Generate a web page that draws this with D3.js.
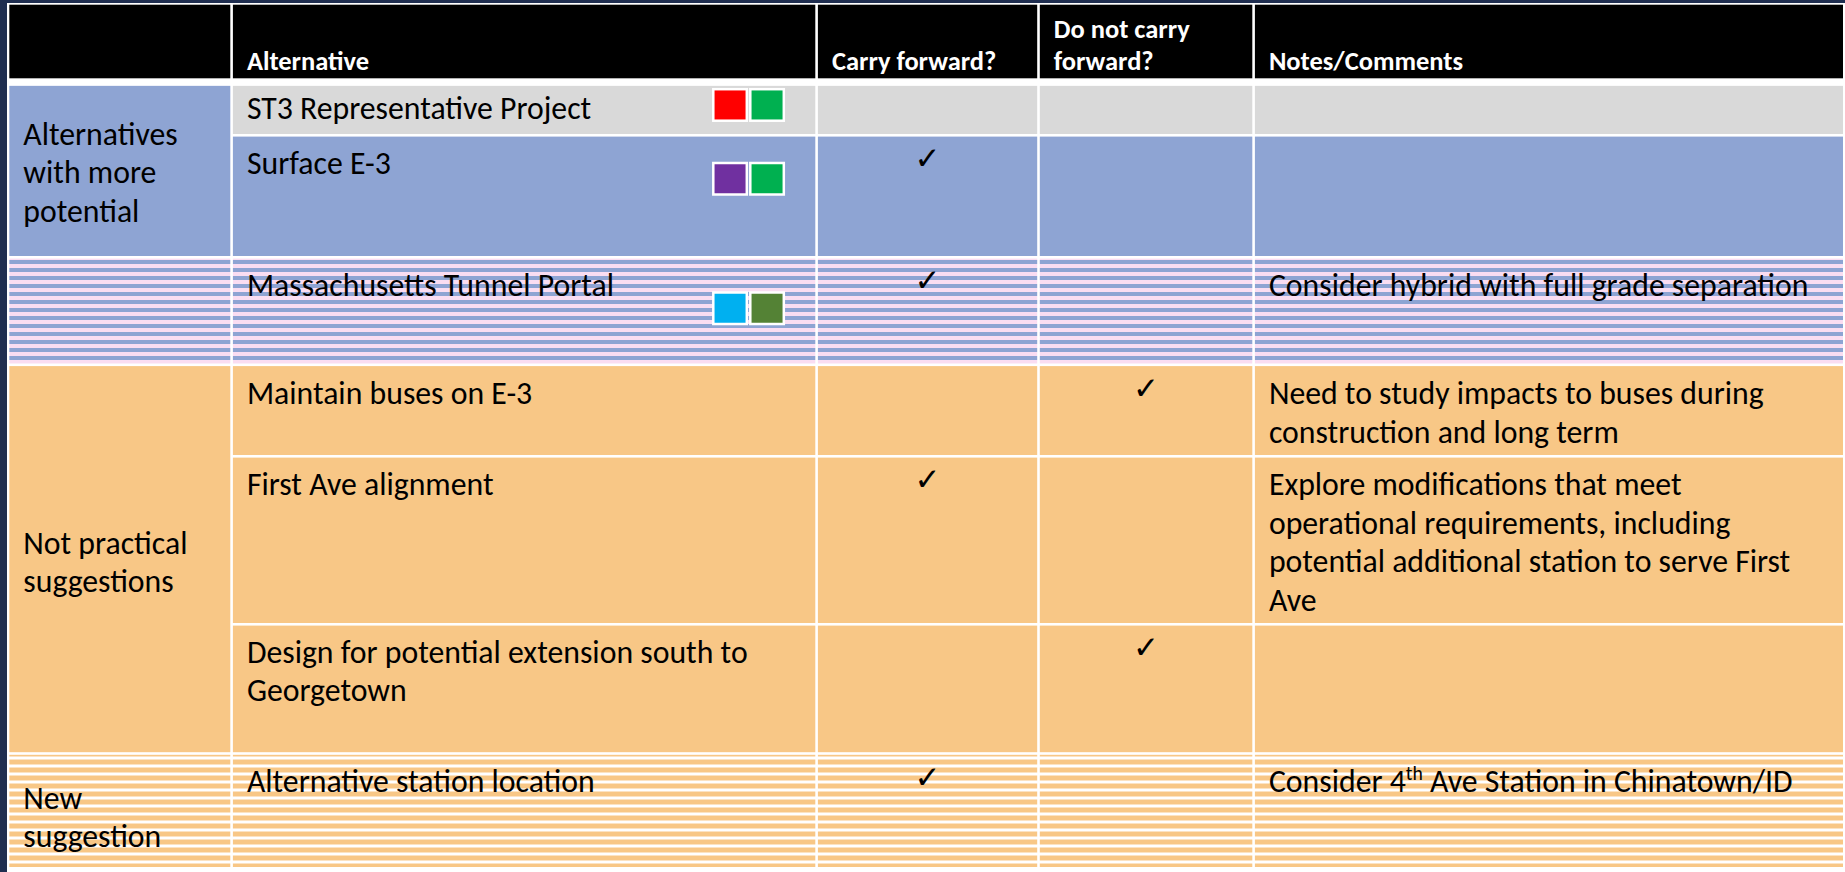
<!DOCTYPE html>
<html>
<head>
<meta charset="utf-8">
<script src="https://cdn.jsdelivr.net/npm/d3@7"></script>
<style>
  html, body { margin: 0; padding: 0; background: #1F2E50; }
  svg { display: block; }
</style>
</head>
<body>
<svg id="chart" width="1845" height="872"></svg>
<script>
// ---------------- DATA ----------------
const headers = ["", "Alternative", "Carry forward?", "Do not carry\nforward?", "Notes/Comments"];
const alternatives = [
  "ST3 Representative Project",
  "Surface E-3",
  "Massachusetts Tunnel Portal",
  "Maintain buses on E-3",
  "First Ave alignment",
  "Design for potential extension south to\nGeorgetown",
  "Alternative station location"
];
// "carry" -> check in "Carry forward?", "drop" -> check in "Do not carry forward?"
const decisions = [null, "carry", "carry", "drop", "carry", "drop", "carry"];
const notes = [
  "",
  "",
  "Consider hybrid with full grade separation",
  "Need to study impacts to buses during\nconstruction and long term",
  "Explore modifications that meet\noperational requirements, including\npotential additional station to serve First\nAve",
  "",
  "Consider 4{th} Ave Station in Chinatown/ID"
];
const groupLabels = ["Alternatives\nwith more\npotential", "", "Not practical\nsuggestions", "New\nsuggestion"];
const groupSpans = [2, 1, 3, 1];          // number of alternative rows per group cell
const rowFills = ["grey", "blue", "stripeBlue", "orange", "orange", "orange", "stripeOrange"];
const groupFills = ["blue", "stripeBlue", "orange", "stripeOrange"];
const swatchColors = [["#FF0000", "#00B050"], ["#7030A0", "#00B050"], ["#00B0F0", "#548235"], [], [], [], []];

// ---------------- LAYOUT ----------------
const W = 1845, H = 872;
const colEdges = [8, 231.6, 816.6, 1038.5, 1253.6, 1844];
const headerTop = 4.7, headerBottom = 78.3;
const rowEdges = [82, 135.3, 257.3, 364.8, 456.3, 624.3, 753.5, 868];
const rowTextDy = [36.5, 39, 38.5, 39.5, 39, 38.5, 38];
const groupTextDy = [3, 0, 3, 6.5];
const swatchDy = [6, 26.5, 34];
const lineW = 2.6, headGap = 7.7;
const bodyLine = 38.5, headLine = 32.7;
const padX = 14;
const colors = {
  grey: "#D9D9D9", blue: "#8EA4D3", orange: "#F8C786",
  pink: "#FADDF2", white: "#FFFFFF", bg: "#1F2E50"
};
const FONT = "Carlito, Calibri, Lato, 'Open Sans', sans-serif";

const svg = d3.select("#chart");

// font size calibration so string widths match the reference
function fit(samples, weight) {
  const ratios = samples.map(([s, w]) => {
    const t = svg.append("text").attr("font-family", FONT).attr("font-weight", weight)
      .attr("font-size", 30).text(s);
    const len = t.node().getComputedTextLength();
    t.remove();
    return 30 * w / len;
  });
  return d3.mean(ratios);
}
const bodySize = fit([["ST3 Representative Project", 345], ["Alternatives", 155], ["Surface E-3", 143],
  ["Consider hybrid with full grade separation", 541]], 400);
const headSize = fit([["Alternative", 122], ["Notes/Comments", 194], ["Carry forward?", 165]], 700);

// scales
const nRows = alternatives.length;
const yTop = d3.scaleOrdinal().domain(d3.range(nRows)).range(rowEdges.slice(0, nRows));
const yBot = d3.scaleOrdinal().domain(d3.range(nRows)).range(rowEdges.slice(1));
const xL = d3.scaleOrdinal().domain(d3.range(5)).range(colEdges.slice(0, 5));
const xR = d3.scaleOrdinal().domain(d3.range(5)).range(colEdges.slice(1));

// patterns
const defs = svg.append("defs");
function stripe(id, bg, fg, start, fgH) {
  const p = defs.append("pattern").attr("id", id).attr("patternUnits", "userSpaceOnUse")
    .attr("x", 0).attr("y", start % 8).attr("width", 8).attr("height", 8);
  p.append("rect").attr("width", 8).attr("height", 8).attr("fill", bg);
  p.append("rect").attr("width", 8).attr("height", fgH).attr("fill", fg);
}
stripe("stripeBlue", colors.pink, colors.blue, 260, 4);
stripe("stripeOrange", colors.white, colors.orange, 759.5, 5);
const fillOf = k => k.startsWith("stripe") ? `url(#${k})` : colors[k];

// background + table white grid
svg.append("rect").attr("width", W).attr("height", H).attr("fill", colors.bg);
svg.append("rect").attr("x", 7).attr("y", 3).attr("width", W - 7).attr("height", H - 3).attr("fill", "#FFFFFF");

// header cells
const hg = svg.append("g");
headers.forEach((h, i) => {
  const x0 = xL(i) + (i === 0 ? 1.3 : lineW / 2), x1 = xR(i) - (i === 4 ? 1 : lineW / 2);
  hg.append("rect").attr("x", x0).attr("y", headerTop).attr("width", x1 - x0)
    .attr("height", headerBottom - headerTop).attr("fill", "#000");
  const lines = h.split("\n");
  const t = hg.append("text").attr("font-family", FONT).attr("font-weight", 700)
    .attr("font-size", headSize).attr("fill", "#fff");
  lines.forEach((ln, k) => {
    t.append("tspan").attr("x", xL(i) + lineW / 2 + padX)
      .attr("y", 70.3 - (lines.length - 1 - k) * headLine).text(ln);
  });
});

// body cells
const body = svg.append("g");
function cellRect(g, col, top, bot, fill) {
  const y0 = top + (top === rowEdges[0] ? headGap / 2 : lineW / 2);
  const y1 = bot - (bot === rowEdges[rowEdges.length - 1] ? 1 : lineW / 2);
  const x0 = xL(col) + (col === 0 ? 1.3 : lineW / 2), x1 = xR(col) - (col === 4 ? 1 : lineW / 2);
  g.append("rect").attr("x", x0).attr("y", y0).attr("width", x1 - x0).attr("height", y1 - y0)
    .attr("fill", fillOf(fill));
}
function multiline(g, text, x, y0, lh) {
  const t = g.append("text").attr("font-family", FONT).attr("font-size", bodySize).attr("fill", "#000");
  const shift = bodySize * 0.36;
  text.split("\n").forEach((ln, k) => {
    const ts = t.append("tspan").attr("x", x).attr("y", y0 + k * lh);
    const parts = ln.split(/\{(\w+)\}/);
    let pending = 0;
    parts.forEach((p, j) => {
      if (j % 2 === 1) {
        ts.append("tspan").attr("font-size", bodySize * 0.62).attr("dy", -shift).text(p);
        pending = shift;
      } else if (p) {
        const s = ts.append("tspan").text(p);
        if (pending) { s.attr("dy", pending); pending = 0; }
      }
    });
  });
  return t;
}

alternatives.forEach((alt, r) => {
  for (let c = 1; c <= 4; c++) cellRect(body, c, yTop(r), yBot(r), rowFills[r]);
});

// group cells (column 0)
let acc = 0;
groupLabels.forEach((lab, g) => {
  const top = yTop(acc), bot = yBot(acc + groupSpans[g] - 1);
  cellRect(body, 0, top, bot, groupFills[g]);
  if (lab) {
    const lines = lab.split("\n");
    const mid = (top + bot) / 2 + groupTextDy[g];
    multiline(body, lab, xL(0) + 1.3 + padX, mid - (lines.length - 1) / 2 * bodyLine + bodySize * 0.34, bodyLine);
  }
  acc += groupSpans[g];
});

// texts, checks, swatches
alternatives.forEach((alt, r) => {
  multiline(body, alt, xL(1) + lineW / 2 + padX, yTop(r) + rowTextDy[r], bodyLine);
  if (notes[r]) multiline(body, notes[r], xL(4) + lineW / 2 + padX, yTop(r) + rowTextDy[r], bodyLine);
  if (decisions[r]) {
    const col = decisions[r] === "carry" ? 2 : 3;
    body.append("text").attr("x", (xL(col) + xR(col)) / 2).attr("y", yTop(r) + 34)
      .attr("text-anchor", "middle").attr("font-family", "'DejaVu Sans', sans-serif")
      .attr("font-size", 31).attr("font-weight", 700).attr("fill", "#000").text("\u2713");
  }
  swatchColors[r].forEach((c, k) => {
    body.append("rect").attr("x", 713.3 + k * 37).attr("y", yTop(r) + swatchDy[r] + 1.2)
      .attr("width", 33.5).attr("height", 31.5).attr("fill", c)
      .attr("stroke", "#fff").attr("stroke-width", 2.5);
  });
});
</script>
</body>
</html>
